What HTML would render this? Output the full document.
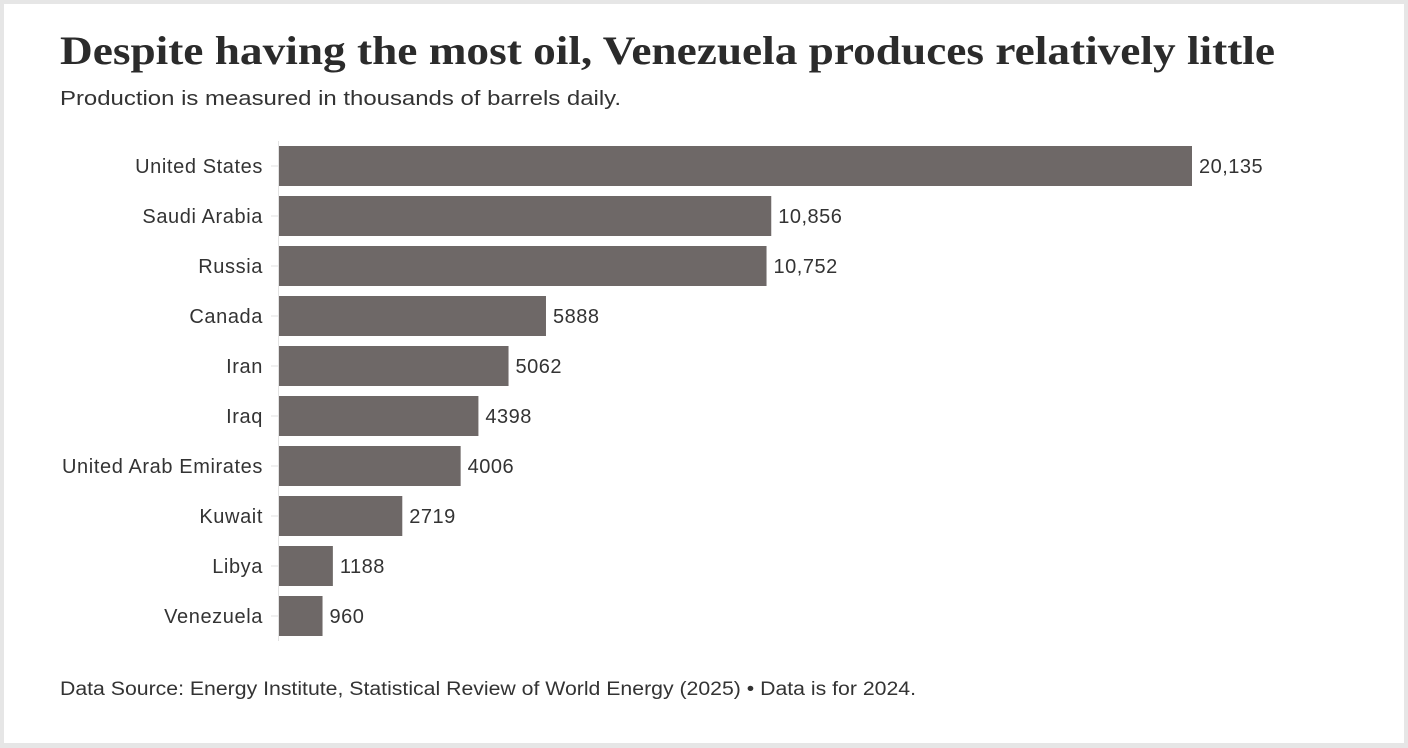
<!DOCTYPE html>
<html><head><meta charset="utf-8"><style>
html,body{margin:0;padding:0;background:#e6e6e6;}
svg{display:block;}
text{font-family:"Liberation Sans",sans-serif;fill:#333;}
</style></head><body>
<svg width="1408" height="748" viewBox="0 0 1408 748">
<rect x="4" y="4" width="1400" height="739" fill="#fff"/>
<text x="60" y="64" font-family="Liberation Serif" font-weight="bold" font-size="40" textLength="1215" lengthAdjust="spacingAndGlyphs" style="font-family:'Liberation Serif',serif;fill:#2b2b2b">Despite having the most oil, Venezuela produces relatively little</text>
<text x="60" y="105" font-size="20" textLength="561" lengthAdjust="spacingAndGlyphs">Production is measured in thousands of barrels daily.</text>
<line x1="278.5" y1="141" x2="278.5" y2="641" stroke="#e2e2e2" stroke-width="1"/>
<g id="bars"></g>
<text x="60" y="695" font-size="19" textLength="856" lengthAdjust="spacingAndGlyphs">Data Source: Energy Institute, Statistical Review of World Energy (2025) • Data is for 2024.</text>
</svg>
<script>
const categories = ["United States","Saudi Arabia","Russia","Canada","Iran","Iraq","United Arab Emirates","Kuwait","Libya","Venezuela"];
const values = [20135,10856,10752,5888,5062,4398,4006,2719,1188,960];
const valueLabels = ["20,135","10,856","10,752","5888","5062","4398","4006","2719","1188","960"];
const NS = "http://www.w3.org/2000/svg";
const x0 = 279, xMaxPx = 1192, vMax = 20135;
const x = v => x0 + (v / vMax) * (xMaxPx - x0);
const y = i => 146 + i * 50;
const bandH = 40;
const g = document.getElementById("bars");
function mk(tag, attrs){const e=document.createElementNS(NS,tag);for(const k in attrs)e.setAttribute(k,attrs[k]);return e;}
categories.forEach((c,i)=>{
  const r = mk("rect",{x:x0,y:y(i),width:x(values[i])-x0,height:bandH,fill:"#6e6867"});
  
  
  g.appendChild(r);
  const t = mk("line",{x1:271,x2:278,y1:y(i)+bandH/2,y2:y(i)+bandH/2,stroke:"#e2e2e2"});
  
  
  g.appendChild(t);
  const lab = mk("text",{x:263,y:y(i)+bandH/2+7,"text-anchor":"end","font-size":"20","letter-spacing":"0.6"});
  lab.textContent = c;
  
  
  g.appendChild(lab);
  const v = mk("text",{x:x(values[i])+7,y:y(i)+bandH/2+7,"font-size":"20","letter-spacing":"0.5"});
  v.textContent = valueLabels[i];
  
  
  g.appendChild(v);
});
</script>
</body></html>
